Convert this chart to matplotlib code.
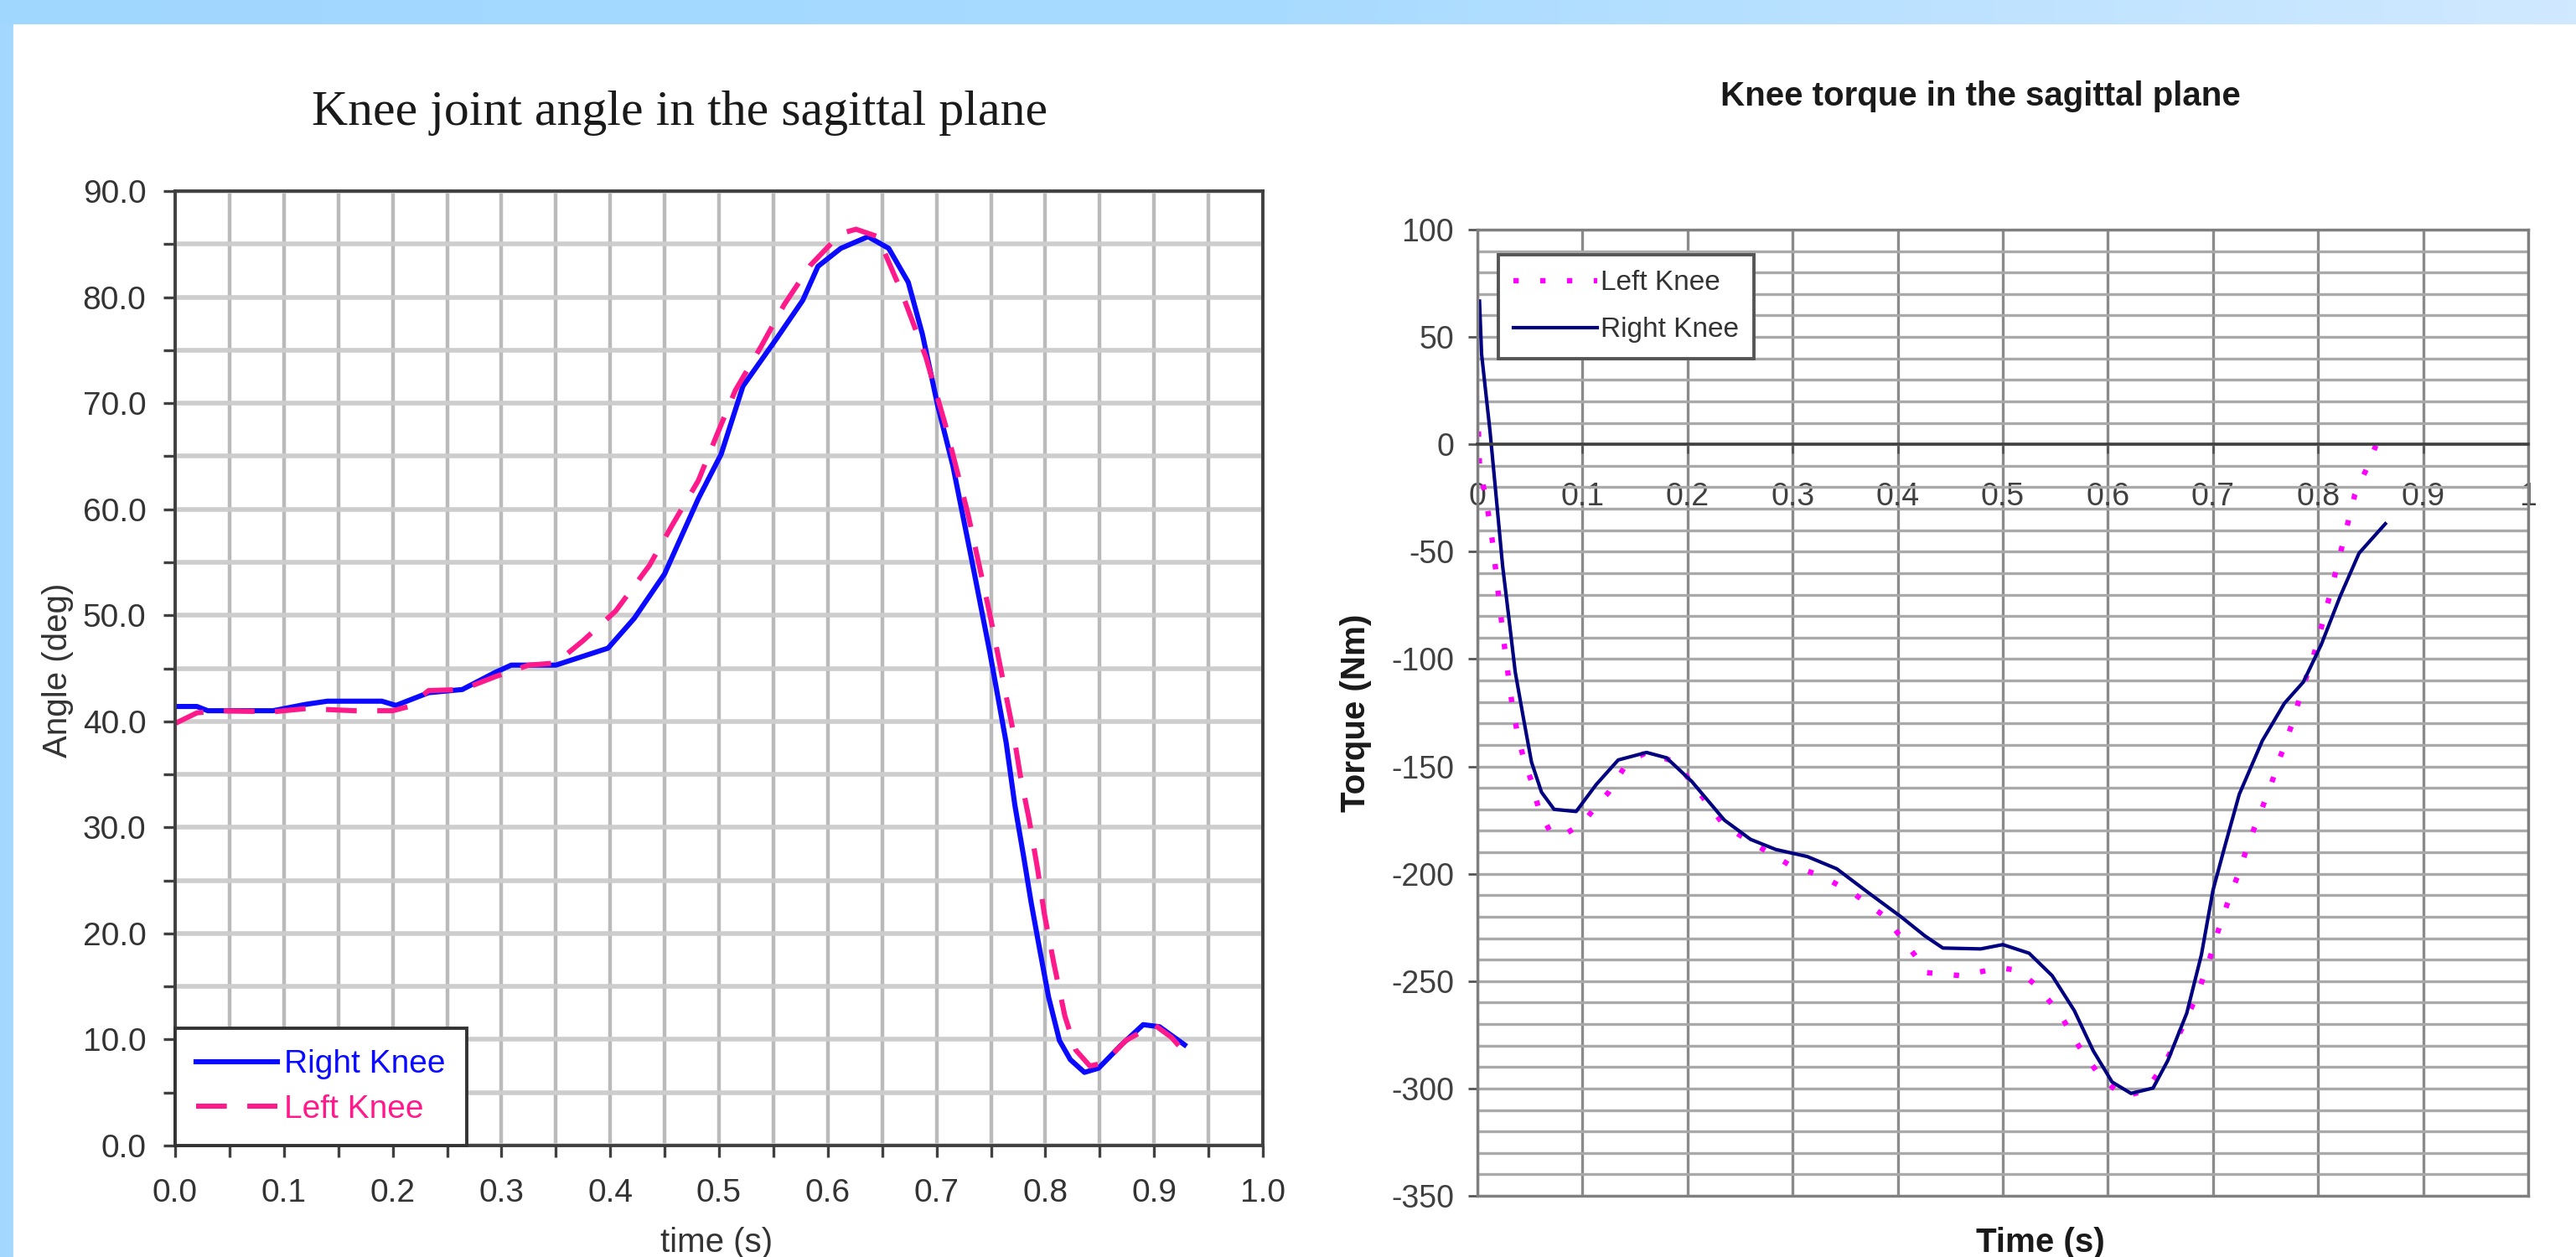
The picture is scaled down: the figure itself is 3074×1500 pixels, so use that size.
import numpy as np
import matplotlib
matplotlib.use("Agg")
import matplotlib.pyplot as plt
from matplotlib import font_manager
from matplotlib.colors import LinearSegmentedColormap
from matplotlib.patches import Rectangle

# --- knee angle (deg) vs time (s) ---
ANGLE_T_RIGHT = [0.00, 0.02, 0.03, 0.09, 0.12, 0.14, 0.19, 0.203, 0.233, 0.264, 0.294, 0.309,
                 0.35, 0.398, 0.422, 0.45, 0.481, 0.502, 0.522, 0.553, 0.577, 0.591, 0.612,
                 0.637, 0.656, 0.674, 0.687, 0.701, 0.715, 0.732, 0.749, 0.764, 0.772, 0.780,
                 0.787, 0.795, 0.803, 0.813, 0.823, 0.836, 0.849, 0.870, 0.890, 0.905, 0.928]
ANGLE_RIGHT = [41.4, 41.4, 41.0, 41.0, 41.6, 41.9, 41.9, 41.5, 42.7, 43.0, 44.6, 45.3,
               45.3, 46.9, 49.7, 53.9, 61.0, 65.2, 71.6, 76.1, 79.7, 82.9, 84.6,
               85.7, 84.6, 81.4, 76.5, 69.8, 64.1, 55.4, 46.5, 38.0, 32.1, 27.3,
               22.9, 18.4, 14.0, 9.9, 8.1, 6.9, 7.3, 9.5, 11.4, 11.2, 9.5]

ANGLE_T_LEFT = [0.00, 0.02, 0.04, 0.09, 0.12, 0.165, 0.20, 0.215, 0.233, 0.264, 0.294, 0.325,
                0.35, 0.375, 0.405, 0.436, 0.457, 0.481, 0.498, 0.515, 0.539, 0.560, 0.584,
                0.612, 0.626, 0.646, 0.667, 0.690, 0.708, 0.729, 0.749, 0.770, 0.777, 0.785,
                0.793, 0.799, 0.808, 0.818, 0.828, 0.841, 0.854, 0.874, 0.900, 0.916, 0.928]
ANGLE_LEFT = [39.8, 40.8, 41.0, 40.9, 41.2, 41.0, 41.0, 41.4, 42.9, 43.0, 44.2, 45.3,
              45.5, 47.6, 50.4, 54.7, 58.5, 62.7, 67.0, 71.2, 75.4, 79.3, 83.0,
              86.0, 86.4, 85.7, 80.7, 74.4, 68.0, 59.5, 50.1, 39.3, 34.9, 30.8,
              26.0, 21.9, 17.1, 12.2, 9.0, 7.5, 7.8, 9.9, 11.4, 10.2, 8.8]

ANGLE_XTICKS = [0.0, 0.1, 0.2, 0.3, 0.4, 0.5, 0.6, 0.7, 0.8, 0.9, 1.0]
ANGLE_XLABELS = ["0.0", "0.1", "0.2", "0.3", "0.4", "0.5", "0.6", "0.7", "0.8", "0.9", "1.0"]
ANGLE_YTICKS = [0, 10, 20, 30, 40, 50, 60, 70, 80, 90]
ANGLE_YLABELS = ["0.0", "10.0", "20.0", "30.0", "40.0", "50.0", "60.0", "70.0", "80.0", "90.0"]

# --- knee torque (Nm) vs time (s) ---
TORQUE_T_RIGHT = [0.002, 0.004, 0.012, 0.018, 0.024, 0.030, 0.036, 0.044, 0.0515, 0.061, 0.073,
                  0.094, 0.113, 0.134, 0.161, 0.18, 0.204, 0.235, 0.26, 0.284, 0.314, 0.342,
                  0.372, 0.403, 0.426, 0.443, 0.479, 0.500, 0.525, 0.547, 0.568, 0.586, 0.604,
                  0.622, 0.643, 0.657, 0.675, 0.689, 0.700, 0.711, 0.725, 0.747, 0.768, 0.786,
                  0.803, 0.821, 0.839, 0.864]
TORQUE_RIGHT = [66.7, 42, 6.2, -25, -56.6, -81, -106, -128, -148, -162, -170,
                -171, -158.5, -147, -143.5, -146, -157, -175, -184, -188.7, -192, -197.7,
                -208.8, -220, -229, -234.6, -235, -233, -237, -247.5, -263.7, -282.4, -297,
                -302.3, -299.8, -287, -265, -237.7, -207.7, -187.7, -163, -138, -120.6, -110.7,
                -93.3, -70.8, -50.7, -37]

TORQUE_T_LEFT = [0.001, 0.002, 0.007, 0.011, 0.015, 0.021, 0.027, 0.033, 0.039, 0.045, 0.0515,
                 0.059, 0.07, 0.082, 0.10, 0.113, 0.125, 0.143, 0.161, 0.189, 0.235, 0.265,
                 0.296, 0.327, 0.357, 0.388, 0.418, 0.426, 0.461, 0.497, 0.515, 0.533, 0.554,
                 0.572, 0.5935, 0.615, 0.636, 0.654, 0.675, 0.686, 0.696, 0.705, 0.7145, 0.725,
                 0.734, 0.745, 0.7556, 0.764, 0.775, 0.784, 0.796, 0.807, 0.816, 0.825, 0.835,
                 0.8465, 0.855]
TORQUE_LEFT = [6, -9.5, -23, -34, -47.6, -74.5, -99, -121, -137, -148, -157,
               -171, -181, -182, -176.5, -168.6, -162, -148, -143.5, -148, -177.6, -186.6,
               -195.6, -201, -208.8, -220, -239, -246, -247.5, -243.8, -245, -252.6, -265,
               -280, -295, -303.7, -301, -288.6, -267.5, -255, -241, -226.5, -212.7, -199,
               -185.4, -171.7, -158, -145.6, -130.6, -115.5, -98, -78.3, -60.9, -43.3, -23.4,
               -11, -0.6]

TORQUE_XTICKS = [0.0, 0.1, 0.2, 0.3, 0.4, 0.5, 0.6, 0.7, 0.8, 0.9, 1.0]
TORQUE_XLABELS = ["0", "0.1", "0.2", "0.3", "0.4", "0.5", "0.6", "0.7", "0.8", "0.9", "1"]
TORQUE_YTICKS = [100, 50, 0, -50, -100, -150, -200, -250, -300, -350]
TORQUE_YLABELS = ["100", "50", "0", "-50", "-100", "-150", "-200", "-250", "-300", "-350"]


installed = {f.name for f in font_manager.fontManager.ttflist}
SANS = "Liberation Sans" if "Liberation Sans" in installed else "DejaVu Sans"
NARROW = "Liberation Sans Narrow" if "Liberation Sans Narrow" in installed else SANS
SERIF = "Liberation Serif" if "Liberation Serif" in installed else "DejaVu Serif"

plt.rcParams["font.family"] = SANS
plt.rcParams["axes.unicode_minus"] = False

W, H = 3074, 1500
fig = plt.figure(figsize=(W / 200, H / 200), dpi=200, facecolor="white")


def box(x0, y0, x1, y1):
    # pixel box (top-left origin) -> figure fraction rect
    return [x0 / W, 1 - y1 / H, (x1 - x0) / W, (y1 - y0) / H]


# light blue page frame (top band + left band)
band = fig.add_axes(box(0, 0, W, 29))
band.imshow(np.linspace(0, 1, 256)[None, :], aspect="auto", extent=[0, 1, 0, 1],
            cmap=LinearSegmentedColormap.from_list("band", ["#a0d7ff", "#a8dbff", "#d0e9ff"]))
band.axis("off")
fig.add_artist(Rectangle((0, 0), 14 / W, 1, transform=fig.transFigure,
                         color="#a3d7fd", zorder=0))

# ---------------- left: knee angle ----------------
ax1 = fig.add_axes(box(209, 228, 1507, 1367))
ax1.plot(ANGLE_T_RIGHT, ANGLE_RIGHT, color="#0a0aff", lw=2.2,
         solid_joinstyle="round", label="Right Knee")
ax1.plot(ANGLE_T_LEFT, ANGLE_LEFT, color="#ff1a8c", lw=2.2,
         linestyle=(0, (6, 4)), label="Left Knee")
ax1.set_xlim(0, 1.0)
ax1.set_ylim(0, 90)
ax1.set_xticks(ANGLE_XTICKS)
ax1.set_xticklabels(ANGLE_XLABELS)
ax1.set_xticks(np.arange(0.05, 1.0, 0.1), minor=True)
ax1.set_yticks(ANGLE_YTICKS)
ax1.set_yticklabels(ANGLE_YLABELS)
ax1.set_yticks(np.arange(5, 90, 10), minor=True)
ax1.grid(axis="x", which="both", color="#bababa", lw=1.6)
ax1.grid(axis="y", which="both", color="#cdcdcd", lw=2.0)
ax1.set_axisbelow(True)
ax1.tick_params(which="both", direction="out", length=5, width=1.2, color="#404040",
                labelsize=14, labelcolor="#333333")
ax1.tick_params(axis="y", pad=7.5)
ax1.tick_params(axis="x", pad=9)
for sp in ax1.spines.values():
    sp.set_color("#404040")
    sp.set_linewidth(1.4)

leg1 = ax1.legend(loc="lower left", bbox_to_anchor=(0, 0), borderaxespad=0, fancybox=False,
                  edgecolor="#333333", framealpha=1, fontsize=14, handlelength=2.5,
                  handletextpad=0.2, labelspacing=0.45, borderpad=0.65, labelcolor="linecolor")
leg1.get_frame().set_linewidth(1.4)

fig.text(811 / W, 1 - 135 / H, "Knee joint angle in the sagittal plane", family=SERIF,
         fontsize=21.5, ha="center", va="center", color="#1a1a1a")
fig.text(69 / W, 1 - 800 / H, "Angle (deg)", rotation=90, fontsize=14.5,
         ha="center", va="center", color="#333333")
fig.text(855 / W, 1 - 1483 / H, "time (s)", fontsize=14.5, ha="center", va="center",
         color="#333333")

# ---------------- right: knee torque ----------------
ax2 = fig.add_axes(box(1763, 274, 3017, 1427))
ax2.plot(TORQUE_T_LEFT, TORQUE_LEFT, color="#ff00ff", lw=2.3, linestyle=(0, (1, 4)),
         dash_capstyle="butt", label="Left Knee")
ax2.plot(TORQUE_T_RIGHT, TORQUE_RIGHT, color="#000080", lw=1.5,
         solid_joinstyle="round", label="Right Knee")
ax2.set_xlim(0, 1.0)
ax2.set_ylim(-350, 100)
ax2.set_xticks(TORQUE_XTICKS)
ax2.set_xticklabels(TORQUE_XLABELS, fontfamily=NARROW)
ax2.set_yticks(TORQUE_YTICKS)
ax2.set_yticklabels(TORQUE_YLABELS, fontfamily=NARROW)
ax2.set_yticks(np.arange(-340, 100, 10), minor=True)
ax2.grid(axis="x", which="major", color="#8a8a8a", lw=1.2)
ax2.grid(axis="y", which="both", color="#a9a9a9", lw=1.2)
ax2.set_axisbelow(True)
ax2.tick_params(which="major", direction="out", length=4, width=1.0, color="#555555",
                labelsize=13.5, labelcolor="#404040")
ax2.tick_params(which="minor", length=0)
ax2.tick_params(axis="x", pad=12)
ax2.tick_params(axis="y", pad=6)
for sp in ax2.spines.values():
    sp.set_color("#7f7f7f")
    sp.set_linewidth(1.2)
ax2.spines["bottom"].set_position(("data", 0))
ax2.spines["bottom"].set_color("#404040")
ax2.spines["bottom"].set_linewidth(1.3)
ax2.axhline(-350, color="#7f7f7f", lw=1.2, clip_on=False)

leg2 = ax2.legend(loc="upper left", bbox_to_anchor=(0.020, 0.974), borderaxespad=0,
                  fancybox=False, edgecolor="#555555", framealpha=1,
                  prop={"family": NARROW, "size": 12}, handlelength=3.0,
                  handletextpad=0.1, labelspacing=0.75, borderpad=0.55, labelcolor="#333333")
leg2.get_frame().set_linewidth(1.4)

fig.text(2363 / W, 1 - 115 / H, "Knee torque in the sagittal plane", fontweight="bold",
         fontsize=14.5, ha="center", va="center", color="#1a1a1a")
fig.text(1618 / W, 1 - 851 / H, "Torque (Nm)", rotation=90, fontweight="bold",
         fontsize=14.5, ha="center", va="center", color="#1a1a1a")
fig.text(2435 / W, 1 - 1483 / H, "Time (s)", fontweight="bold", fontsize=14.5,
         ha="center", va="center", color="#1a1a1a")

fig.savefig("out.png", dpi=200, facecolor="white")
